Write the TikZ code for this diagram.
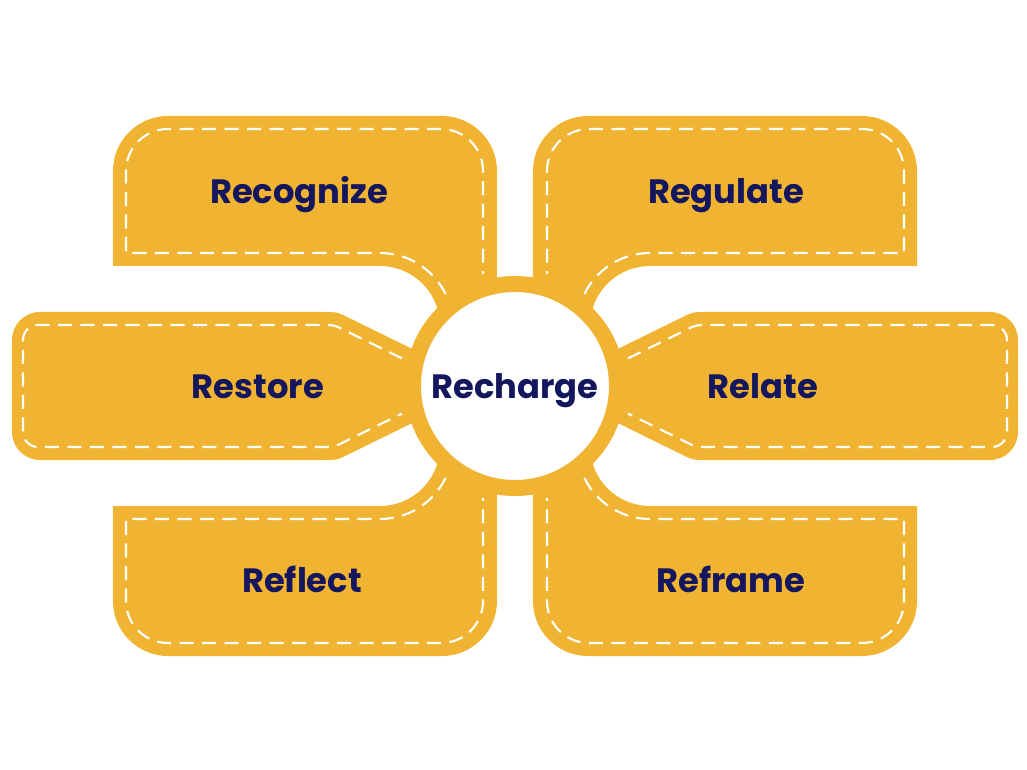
\documentclass[tikz,border=0pt]{standalone}
\usepackage{fontspec}
\setmainfont{Poppins}
\usepackage{xcolor}
\definecolor{petalgold}{RGB}{240, 180, 50}
\definecolor{inknavy}{RGB}{20, 22, 94}
\usetikzlibrary{positioning}

\tikzset{
  petal/.style={fill=petalgold},
  stitch/.style={draw=white, line width=1.5pt, dash pattern=on 10pt off 6pt},
  petallabel/.style={anchor=base, text=inknavy, font=\fontsize{24}{28}\selectfont\bfseries},
  hub/.style={circle, fill=white, draw=petalgold, line width=0.4cm, minimum size=5.1cm,
    inner sep=0pt, text depth=0pt, text=inknavy, font=\fontsize{24}{28}\selectfont\bfseries},
}

\begin{document}
\begin{tikzpicture}[x=0.025cm, y=0.025cm]
  \useasboundingbox (-515,-384) rectangle (512,386);

  % four corner petals, one shape mirrored
  \foreach \sx/\sy in {1/1,-1/1,1/-1,-1/-1}{
    \begin{scope}[xscale=\sx, yscale=\sy]
      \fill[petal] (0,0) -- (-18,100) -- (-18,215) arc (0:90:55) -- (-347,270)
        arc (90:180:55) -- (-402,120) -- (-135,120) arc (90:17.3:60) -- cycle;
      \draw[stitch] (-69.4,92) arc (26:90:73) -- (-389,133) -- (-389,215)
        arc (180:90:42) -- (-74,257) arc (90:0:42) -- (-32,112);
    \end{scope}
  }

  % left and right petals
  \foreach \sx in {1,-1}{
    \begin{scope}[xscale=\sx]
      \fill[petal] (60,16) -- (167.2,68.7) .. controls (178,74) .. (190,74) -- (475,74)
        arc (90:0:28) -- (503,-46) arc (0:-90:28) -- (190,-74)
        .. controls (178,-74) .. (167.2,-68.7) -- (60,-16) -- cycle;
      \draw[stitch] (113,27.6) -- (171,56) .. controls (181,61) .. (192,61) -- (477,61)
        arc (90:0:15) -- (492,-46) arc (0:-90:15) -- (192,-61)
        .. controls (181,-61) .. (171,-56) -- (113,-27.6);
    \end{scope}
  }

  % hub
  \node[hub] (recharge) at (0,0) {Recharge};

  % labels
  \node[petallabel] (recognize) at (-216,182) {Recognize};
  \node[petallabel] (regulate) at (211,182) {Regulate};
  \node[petallabel] (restore) at (-257,-12) {Restore};
  \node[petallabel] (relate) at (248,-12) {Relate};
  \node[petallabel] (reflect) at (-213,-206) {Reflect};
  \node[petallabel] (reframe) at (216,-206) {Reframe};
\end{tikzpicture}
\end{document}
